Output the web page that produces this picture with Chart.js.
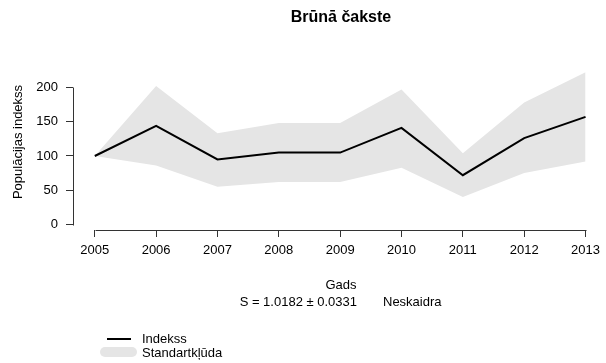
<!DOCTYPE html>
<html lang="lv">
<head>
<meta charset="utf-8">
<title>Brūnā čakste</title>
<script src="https://cdn.jsdelivr.net/npm/chart.js@4/dist/chart.umd.min.js"></script>
<style>
  html, body { margin: 0; padding: 0; background: #fff; }
  #wrap { width: 606px; height: 363px; }
</style>
</head>
<body>
<div id="wrap"><canvas id="indekss" width="606" height="363"></canvas></div>
<script>
// Populācijas indekss pa gadiem
const gadi = [2005, 2006, 2007, 2008, 2009, 2010, 2011, 2012, 2013];
const indekss = [100, 144, 95, 105, 105, 141, 72, 126, 157];
// Standartkļūdas josla (augšējā un apakšējā robeža)
const augsa = [100, 202, 133, 148, 148, 197, 104, 178, 222];
const apaksa = [100, 86, 55, 62, 62, 83, 40, 75, 92];
const yTicks = [0, 50, 100, 150, 200];

const fonts = '"Liberation Sans", Arial, sans-serif';
const asuKrasa = '#333';

const punkti = arr => arr.map((v, i) => ({ x: gadi[i], y: v }));

// R stila asis: līnija tikai no pirmās līdz pēdējai atzīmei + paraksti
const asuLinijas = {
  id: 'asuLinijas',
  afterDraw(chart) {
    const ctx = chart.ctx;
    const xs = chart.scales.x, ys = chart.scales.y;
    const a = chart.chartArea;
    ctx.save();
    ctx.strokeStyle = asuKrasa;
    ctx.lineWidth = 1;
    ctx.beginPath();
    ctx.moveTo(Math.round(xs.getPixelForValue(gadi[0])) + 0.5, Math.round(a.bottom) + 0.5);
    ctx.lineTo(Math.round(xs.getPixelForValue(gadi[gadi.length - 1])) + 0.5, Math.round(a.bottom) + 0.5);
    ctx.moveTo(Math.round(a.left) + 0.5, Math.round(ys.getPixelForValue(0)) + 0.5);
    ctx.lineTo(Math.round(a.left) + 0.5, Math.round(ys.getPixelForValue(200)) + 0.5);
    ctx.stroke();

    // virsraksts virs zīmēšanas apgabala centra
    ctx.fillStyle = '#000';
    ctx.textBaseline = 'middle';
    ctx.textAlign = 'center';
    ctx.font = 'bold 16px ' + fonts;
    ctx.fillText('Brūnā čakste', 341, 18);

    ctx.font = '13px ' + fonts;
    ctx.fillText('Gads', 341, 285);
    ctx.textAlign = 'right';
    ctx.fillText('S = 1.0182 ± 0.0331', 357, 302);
    ctx.textAlign = 'left';
    ctx.fillText('Neskaidra', 383, 302);

    // y ass nosaukums
    ctx.save();
    ctx.translate(18, 142);
    ctx.rotate(-Math.PI / 2);
    ctx.textAlign = 'center';
    ctx.fillText('Populācijas indekss', 0, 0);
    ctx.restore();

    // leģenda
    ctx.strokeStyle = '#000';
    ctx.lineWidth = 2;
    ctx.beginPath();
    ctx.moveTo(107, 339);
    ctx.lineTo(131, 339);
    ctx.stroke();
    ctx.fillStyle = '#e5e5e5';
    ctx.beginPath();
    ctx.roundRect(100, 347, 37, 10, 5);
    ctx.fill();
    ctx.fillStyle = '#000';
    ctx.textAlign = 'left';
    ctx.fillText('Indekss', 142, 339);
    ctx.fillText('Standartkļūda', 142, 353);
    ctx.restore();
  }
};

const chart = new Chart(document.getElementById('indekss'), {
  type: 'line',
  data: {
    datasets: [
      {
        label: 'Indekss',
        data: punkti(indekss),
        borderColor: '#000',
        borderWidth: 2,
        pointRadius: 0,
        tension: 0,
        fill: false,
        clip: false
      },
      {
        label: 'apaksa',
        data: punkti(apaksa),
        borderWidth: 0,
        pointRadius: 0,
        fill: false,
        clip: false
      },
      {
        label: 'Standartkļūda',
        data: punkti(augsa),
        borderWidth: 0,
        pointRadius: 0,
        backgroundColor: '#e5e5e5',
        fill: '-1',
        clip: false
      }
    ]
  },
  options: {
    responsive: false,
    animation: false,
    devicePixelRatio: 1,
    layout: { padding: { top: 71, left: 0, right: 0, bottom: 103 } },
    plugins: {
      legend: { display: false },
      tooltip: { enabled: false },
      title: { display: false }
    },
    scales: {
      x: {
        type: 'linear',
        min: 2004.645,
        max: 2013.29,
        afterBuildTicks: s => { s.ticks = gadi.map(v => ({ value: v })); },
        afterFit: s => { s.height = 30; },
        border: { display: false },
        grid: { drawOnChartArea: false, drawTicks: true, tickLength: 7, color: asuKrasa },
        ticks: {
          color: '#000',
          padding: 6,
          maxRotation: 0,
          autoSkip: false,
          font: { family: fonts, size: 13 },
          callback: v => String(v)
        }
      },
      y: {
        min: -8,
        max: 224,
        afterBuildTicks: s => { s.ticks = yTicks.map(v => ({ value: v })); },
        afterFit: s => { s.width = 73; },
        border: { display: false },
        grid: { drawOnChartArea: false, drawTicks: true, tickLength: 7, color: asuKrasa },
        ticks: {
          color: '#000',
          padding: 8,
          font: { family: fonts, size: 13 },
          callback: v => String(v)
        }
      }
    }
  },
  plugins: [asuLinijas]
});
</script>
</body>
</html>
